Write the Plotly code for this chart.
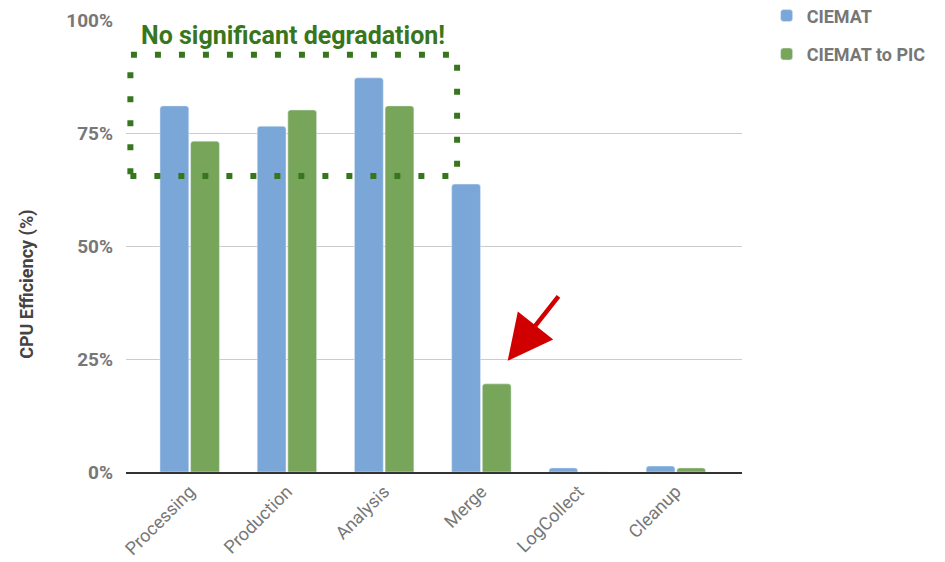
import plotly.graph_objects as go

# Job types and CPU efficiency (%) for each site configuration
categories = ["Processing", "Production", "Analysis", "Merge", "LogCollect", "Cleanup"]
ciemat = [81.0, 76.5, 87.2, 63.7, 0.9, 1.3]
ciemat_to_pic = [73.2, 80.1, 81.0, 19.5, 0.0, 0.9]
y_ticks = [0, 25, 50, 75, 100]
y_tick_labels = ["0%", "25%", "50%", "75%", "100%"]

BLUE = "#7aa7d8"
GREEN = "#77a65a"
DARK_GREEN = "#38761d"
GREY = "#777777"

fig = go.Figure()
fig.add_trace(go.Bar(name="CIEMAT", x=categories, y=ciemat,
                     marker_color=BLUE, legendgroup="a"))
fig.add_trace(go.Bar(name="CIEMAT to PIC", x=categories, y=ciemat_to_pic,
                     marker_color=GREEN, legendgroup="b"))

# Dotted box around the first three job types
fig.add_shape(type="rect", xref="x", yref="y",
              x0=-0.61, x1=2.75, y0=65.5, y1=92.3,
              line=dict(color=DARK_GREEN, width=6, dash="6px,18px"),
              fillcolor="rgba(0,0,0,0)", layer="above")

fig.add_annotation(xref="x", yref="paper", x=1.06, y=0.965,
                   text="<b>No significant degradation!</b>", showarrow=False,
                   font=dict(family="Roboto", size=25, color=DARK_GREEN),
                   xanchor="center", yanchor="middle")

# Y axis title, drawn as a rotated annotation
fig.add_annotation(xref="paper", yref="y", x=-0.16, y=41.5,
                   text="<b>CPU Efficiency (%)</b>", showarrow=False,
                   textangle=-90, xanchor="center", yanchor="middle",
                   font=dict(family="Roboto", size=18, color="#444444"))

# Red arrow pointing at the Merge drop
fig.add_annotation(xref="x", yref="y", x=3.27, y=24.6,
                   ax=52, ay=-66, axref="pixel", ayref="pixel",
                   text="", showarrow=True, arrowhead=2, arrowsize=2.0,
                   arrowwidth=4.5, arrowcolor="#d00000", standoff=0)

fig.update_layout(
    width=945, height=562,
    margin=dict(l=126, r=203, t=20, b=90, autoexpand=False),
    paper_bgcolor="white", plot_bgcolor="white",
    barmode="group", bargap=0.37, bargroupgap=0.06, barcornerradius=3,
    font=dict(family="Roboto", color=GREY),
    xaxis=dict(range=[-0.655, 5.68], tickangle=-45, showgrid=False,
               showline=True, linecolor="#333333", linewidth=2,
               tickfont=dict(size=18, color=GREY), ticks="", automargin=False),
    yaxis=dict(range=[0, 100], tickvals=y_ticks, ticktext=y_tick_labels,
               showgrid=True, gridcolor="#cccccc", gridwidth=1,
               zeroline=False, ticks="", ticklabelstandoff=12, automargin=False,
               tickfont=dict(size=19, color=GREY, weight="bold")),
    legend=dict(x=1.04, y=1.05, xanchor="left", yanchor="top",
                font=dict(size=18, color=GREY, weight="bold"),
                traceorder="grouped", tracegroupgap=12,
                bgcolor="rgba(0,0,0,0)"),
)

fig.write_html("out.html")
